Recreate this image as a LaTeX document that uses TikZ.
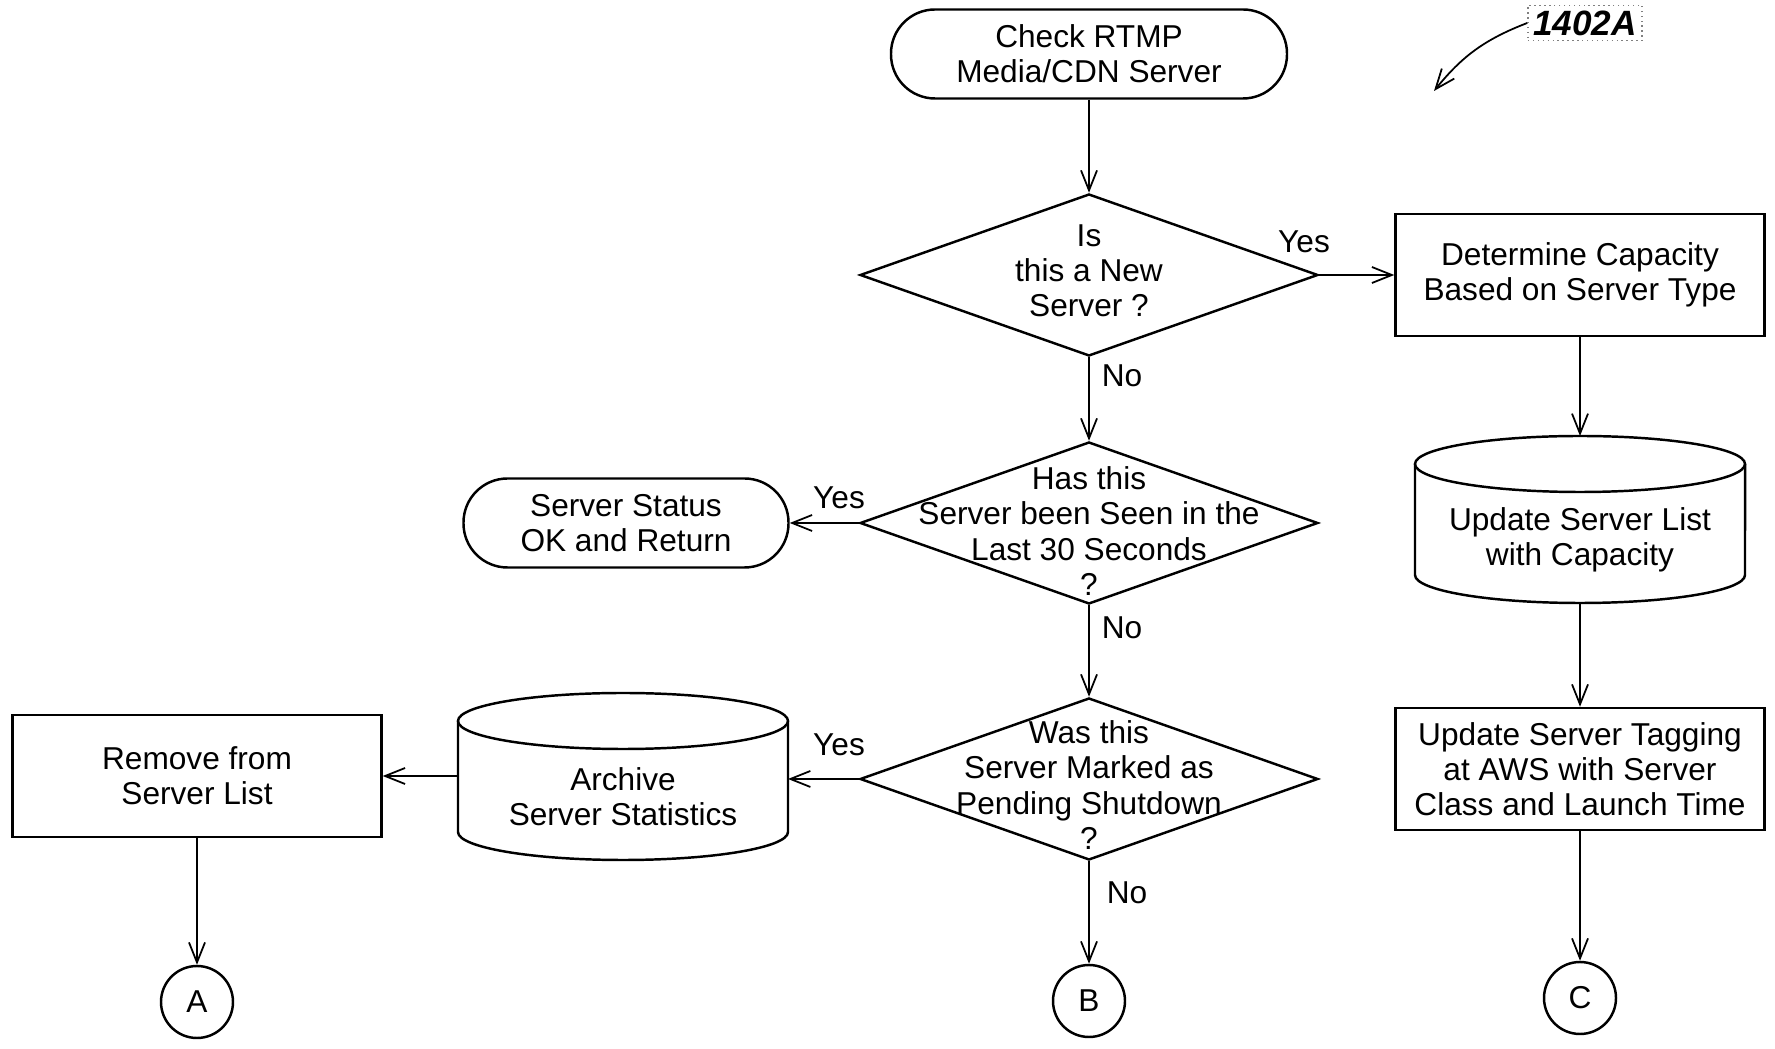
\documentclass[tikz,border=0pt]{standalone}
\usepackage{fontspec}
\setmainfont{Liberation Sans}
\usetikzlibrary{shapes.geometric}
\usetikzlibrary{arrows.meta}
\usetikzlibrary{positioning}
\tikzstyle{terminal} = [rectangle, rounded corners=0.44cm, draw, line width=0.7pt,
minimum width=3.96cm, minimum height=0.89cm, align=center]
\tikzstyle{decision} = [diamond, draw, line width=0.7pt, inner sep=0pt,
minimum width=4.58cm, minimum height=1.62cm]
\tikzstyle{process} = [rectangle, draw, line width=0.7pt,
minimum width=3.69cm, minimum height=1.22cm, align=center]
\tikzstyle{storebox} = [rectangle, outer sep=0pt, inner sep=0pt,
minimum width=3.3cm, minimum height=1.67cm]
\tikzstyle{connector} = [circle, draw, line width=0.7pt, inner sep=0pt,
minimum size=0.72cm]
\tikzstyle{lbl} = [inner sep=0pt]
\tikzstyle{refnum} = [draw=gray, densely dotted, inner sep=1.5pt,
font=\fontsize{10}{10}\selectfont\bfseries\itshape]
\tikzstyle{flow} = [-{Straight Barb[length=2mm,width=1.6mm]}, line width=0.5pt]
\tikzset{
  font={\fontsize{9pt}{10pt}\selectfont}
}
\newcommand{\datastore}[3]{ %
  % Cylinder #1 at #2 with text #3.
  \node[storebox, label={[align=center, yshift=-0.2cm]center:#3}] (#1) at #2 {}; %
  \draw[line width=0.7pt] ([yshift=-0.28cm]#1.north)
    ellipse [x radius=1.65cm, y radius=0.28cm]; %
  \draw[line width=0.7pt] ([yshift=-0.28cm]#1.north west)
    -- ([yshift=0.28cm]#1.south west)
    arc [start angle=180, end angle=360, x radius=1.65cm, y radius=0.28cm]
    -- ([yshift=-0.28cm]#1.north east); %
}

\begin{document}
\begin{tikzpicture}
    \useasboundingbox (0,0) rectangle (17.75,-10.49);
    % main column
    \node[terminal](check) at (10.89,-0.54) {Check RTMP\\Media/CDN Server};
    \node[decision, label={[align=center, yshift=0.04cm]center:Is\\this a New\\Server ?}](isnew) at (10.89,-2.75) {};
    \node[decision, label={[align=center, yshift=-0.08cm]center:Has this\\Server been Seen in the\\Last 30 Seconds\\?}](seen) at (10.89,-5.23) {};
    \node[decision, label={[align=center, yshift=-0.06cm]center:Was this\\Server Marked as\\Pending Shutdown\\?}](pending) at (10.89,-7.79) {};
    \node[connector](B) at (10.89,-10.01) {B};
    % right column
    \node[process](capacity) at (15.8,-2.75) {Determine Capacity\\Based on Server Type};
    \datastore{updlist}{(15.8,-5.195)}{Update Server List\\with Capacity}
    \node[process](tagging) at (15.8,-7.69) {Update Server Tagging\\at AWS with Server\\Class and Launch Time};
    \node[connector](C) at (15.8,-9.98) {C};
    % left side
    \node[terminal, minimum width=3.25cm](status) at (6.26,-5.23) {Server Status\\OK and Return};
    \datastore{archive}{(6.23,-7.765)}{Archive\\Server Statistics}
    \node[process](remove) at (1.97,-7.76) {Remove from\\Server List};
    \node[connector](A) at (1.97,-10.02) {A};
    % branch labels
    \node[lbl](yes1) at (13.04,-2.42) {Yes};
    \node[lbl](no1) at (11.22,-3.76) {No};
    \node[lbl](yes2) at (8.39,-4.98) {Yes};
    \node[lbl](no2) at (11.22,-6.28) {No};
    \node[lbl](yes3) at (8.39,-7.45) {Yes};
    \node[lbl](no3) at (11.27,-8.93) {No};
    % figure number
    \node[refnum](fignum) at (15.85,-0.23) {1402A};
    \coordinate (figtip) at (14.34,-0.91);
    \draw[flow] (fignum.west) to[bend right=15] (figtip);
    % connections
    \draw[flow] (check) -- (isnew);
    \draw[flow] (isnew) -- (capacity);
    \draw[flow] (isnew) -- (seen);
    \draw[flow] (seen) -- (status);
    \draw[flow] (seen) -- (pending);
    \draw[flow] (pending) -- (archive.east |- pending);
    \draw[flow] (pending) -- (B);
    \draw[flow] (archive.west |- remove) -- (remove);
    \draw[flow] (remove) -- (A);
    \draw[flow] (capacity) -- (updlist);
    \draw[flow] (updlist) -- (tagging);
    \draw[flow] (tagging) -- (C);
\end{tikzpicture}
\end{document}
